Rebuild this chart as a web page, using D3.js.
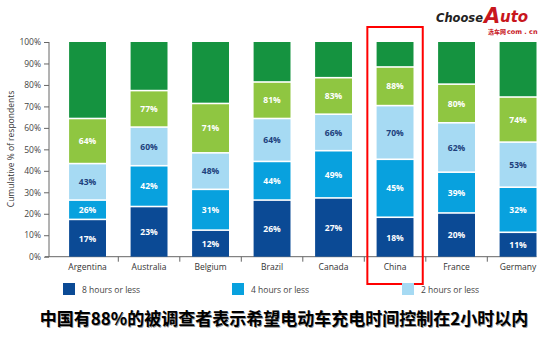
<!DOCTYPE html>
<html><head><meta charset="utf-8">
<script src="https://cdn.jsdelivr.net/npm/d3@7"></script>
<style>
body{margin:0;background:#fff;}
svg{display:block;}
</style></head>
<body>
<svg id="c" width="550" height="356"></svg>
<script>
const categories = ["Argentina","Australia","Belgium","Brazil","Canada","China","France","Germany"];
const hours8 = [17,23,12,26,27,18,20,11];
const hours4 = [26,42,31,44,49,45,39,32];
const hours2 = [43,60,48,64,66,70,62,53];
const hours1 = [64,77,71,81,83,88,80,74];
const totals = [100,100,100,100,100,100,100,100];
const yTicks = [0,10,20,30,40,50,60,70,80,90,100];
const legendLabels = ["8 hours or less","4 hours or less","2 hours or less"];
const title = "中国有88%的被调查者表示希望电动车充电时间控制在2小时以内";
const highlight = "China";

const colors = ["#0b4a95","#08a1de","#a6daf3","#8fc641","#159340"];
const labelColors = ["#ffffff","#ffffff","#203f7c","#ffffff"];
const series = [hours8,hours4,hours2,hours1,totals];

const svg = d3.select("#c");
const font = "'Open Sans', 'Liberation Sans', sans-serif";

const x = d3.scaleBand().domain(categories).range([56.8,548.8]).paddingInner(0.4).paddingOuter(0.2);
const y = d3.scaleLinear().domain([0,100]).range([256.7,42]);

// y axis
const yAxis = svg.append("g").attr("transform","translate(49,0)")
  .call(d3.axisLeft(y).tickValues(yTicks).tickFormat(d=>d+"%").tickSize(5).tickPadding(3));
yAxis.select(".domain").attr("stroke","#666").attr("d","M0,42V256.7");
yAxis.selectAll(".tick line").attr("stroke","#666");
yAxis.selectAll("text").attr("fill","#444").style("font-family",font).style("font-size","8.5px");

svg.append("text").attr("transform","translate(14,149) rotate(-90)")
  .attr("text-anchor","middle").attr("fill","#333")
  .style("font-family",font).style("font-size","8.5px")
  .text("Cumulative % of respondents");

// x baseline
svg.append("line").attr("x1",45).attr("x2",x(categories[categories.length-1])+x.bandwidth())
  .attr("y1",y(0)).attr("y2",y(0)).attr("stroke","#666").attr("stroke-width",1);
// separators
const step = x.step();
categories.slice(1).forEach(c=>{
  const sx = x(c) - (step - x.bandwidth())/2;
  svg.append("line").attr("x1",sx).attr("x2",sx).attr("y1",y(0)).attr("y2",y(0)+5)
    .attr("stroke","#666");
});
// category labels
svg.append("g").selectAll("text").data(categories).join("text")
  .attr("x",d=>x(d)+x.bandwidth()/2).attr("y",270)
  .attr("text-anchor","middle").attr("fill","#333")
  .style("font-family",font).style("font-size","8.5px").text(d=>d);

// bars
const gap = 1.6;
categories.forEach((c,i)=>{
  series.forEach((s,k)=>{
    const lo = k===0?0:series[k-1][i];
    const hi = s[i];
    const top = y(hi);
    const bot = y(lo) - (k===0?0:gap);
    svg.append("rect").attr("x",x(c)).attr("y",top).attr("width",x.bandwidth())
      .attr("height",Math.max(0,bot-top)).attr("fill",colors[k]);
    if(k<4){
      svg.append("text").attr("x",x(c)+x.bandwidth()/2).attr("y",(top+bot)/2+3.2)
        .attr("text-anchor","middle").attr("fill",labelColors[k])
        .style("font-family",font).style("font-size","8.5px").style("font-weight","bold")
        .text(hi+"%");
    }
  });
});

// highlight box
const hx = x(highlight)+x.bandwidth()/2;
svg.append("rect").attr("x",hx-27.7).attr("y",27).attr("width",55.4).attr("height",257)
  .attr("fill","none").attr("stroke","#ff0000").attr("stroke-width",2);

// legend
const legX = [63,232,402];
legendLabels.forEach((l,i)=>{
  svg.append("rect").attr("x",legX[i]).attr("y",283).attr("width",12).attr("height",12).attr("fill",colors[i]);
  svg.append("text").attr("x",legX[i]+19).attr("y",292.5).attr("fill","#444")
    .style("font-family",font).style("font-size","8.5px").text(l);
});

// title
svg.append("text").attr("x",284).attr("y",325).attr("text-anchor","middle")
  .attr("fill","#999").style("font-family","'Noto Sans CJK SC', sans-serif")
  .style("font-size","17px").style("font-weight","bold").attr("dx",0.8).attr("dy",0.8).text(title);
svg.append("text").attr("x",284).attr("y",325).attr("text-anchor","middle")
  .attr("fill","#000").style("font-family","'Noto Sans CJK SC', sans-serif")
  .style("font-size","17px").style("font-weight","bold").text(title);

// logo
const lg = svg.append("g");
lg.append("text").attr("x",436).attr("y",22).attr("fill","#222")
  .style("font-family","'DejaVu Sans', sans-serif").style("font-size","11.5px")
  .style("font-weight","bold").style("font-style","italic").attr("textLength",47).text("Choose");
lg.append("text").attr("x",484).attr("y",22.5).attr("fill","#c8161d")
  .style("font-family","'DejaVu Sans', sans-serif").style("font-size","21px")
  .style("font-weight","bold").style("font-style","italic").text("A");
lg.append("text").attr("x",500).attr("y",22).attr("fill","#c8161d")
  .style("font-family","'DejaVu Sans', sans-serif").style("font-size","15px")
  .style("font-weight","bold").style("font-style","italic").text("uto");
lg.append("text").attr("x",488).attr("y",33.5).attr("fill","#c8161d")
  .style("font-family","'Noto Sans CJK SC', sans-serif").style("font-size","6px")
  .style("font-weight","bold").text("选车网");
lg.append("text").attr("x",507).attr("y",33.5).attr("fill","#c8161d")
  .style("font-family","'DejaVu Sans', sans-serif").style("font-size","6.5px")
  .style("font-weight","bold").text("com . cn");
</script>
</body></html>
